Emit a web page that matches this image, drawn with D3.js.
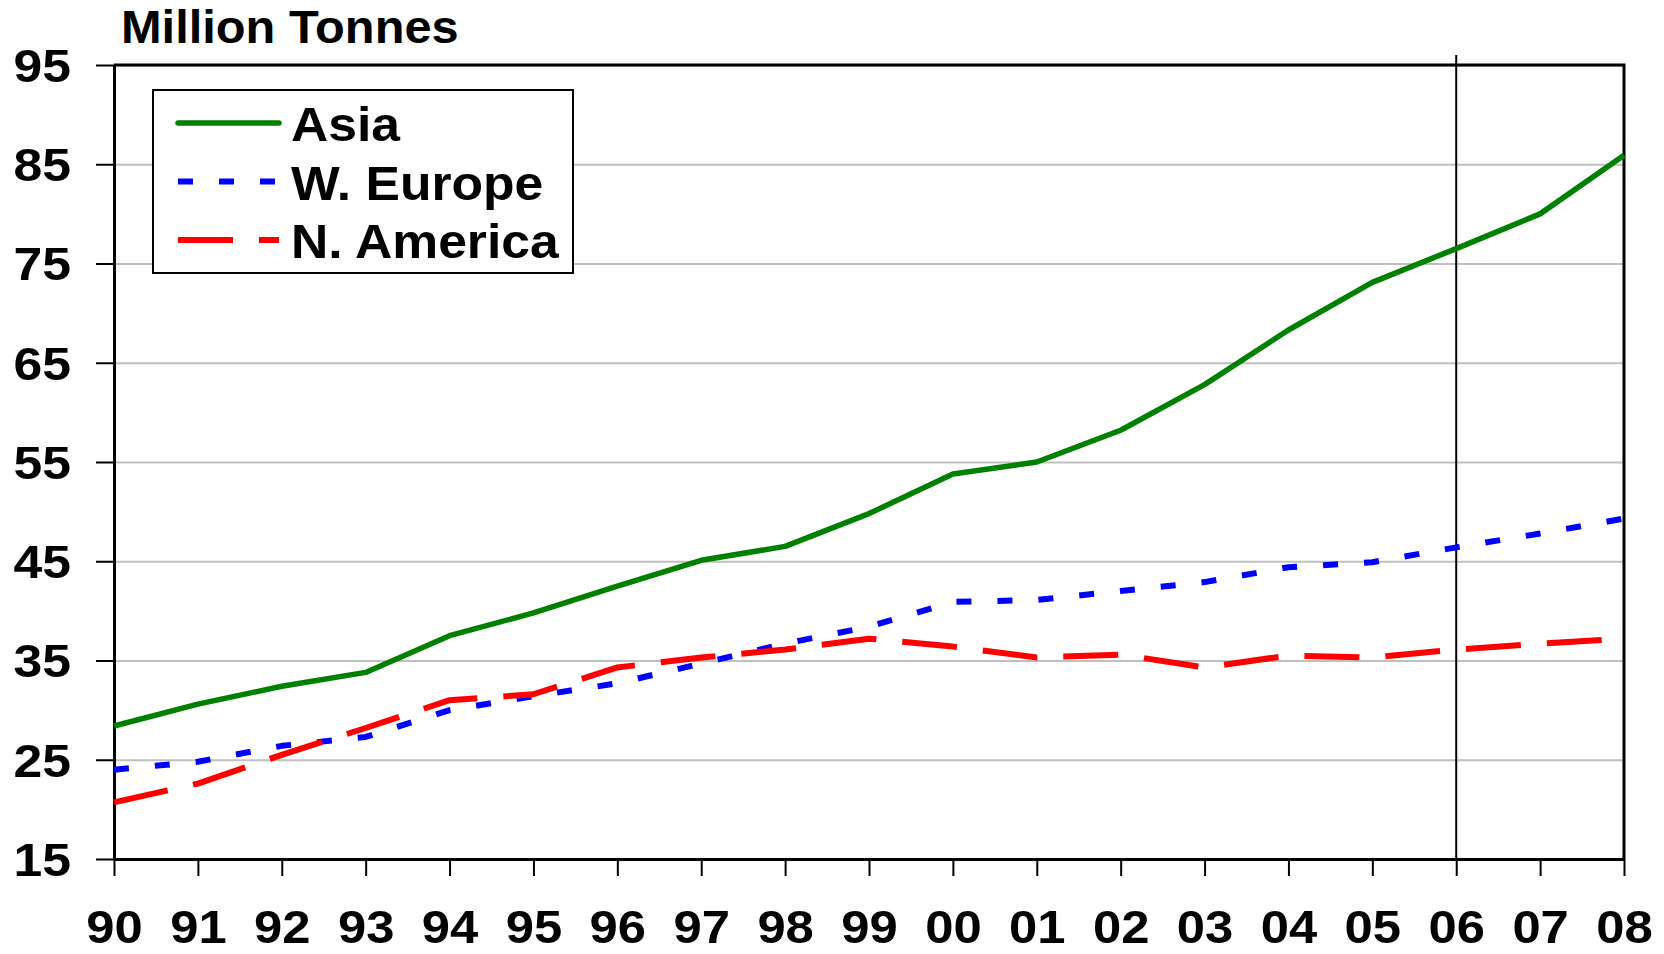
<!DOCTYPE html>
<html>
<head>
<meta charset="utf-8">
<script src="https://cdn.jsdelivr.net/npm/d3@7"></script>
<style>
  body { margin: 0; background: #fff; }
  text { font-family: "Liberation Sans", Arial, sans-serif; font-weight: bold; fill: #000; }
</style>
</head>
<body>
<div id="chart"></div>
<script>
// years on the x axis
const years = ["90","91","92","93","94","95","96","97","98","99","00","01","02","03","04","05","06","07","08"];
// million tonnes
const asia     = [28.4, 30.6, 32.4, 33.8, 37.5, 39.8, 42.5, 45.1, 46.5, 49.8, 53.8, 55.0, 58.2, 62.8, 68.3, 73.1, 76.5, 80.0, 85.9];
const wEurope  = [24.0, 24.8, 26.4, 27.3, 30.0, 31.4, 32.7, 34.7, 36.7, 38.4, 40.9, 41.1, 42.0, 42.9, 44.4, 44.9, 46.4, 47.8, 49.3];
const nAmerica = [20.7, 22.6, 25.5, 28.2, 31.0, 31.6, 34.3, 35.3, 36.1, 37.2, 36.4, 35.3, 35.6, 34.3, 35.5, 35.3, 36.1, 36.7, 37.2];
const yTicks = [15, 25, 35, 45, 55, 65, 75, 85, 95];
const markerYear = "06";

const series = [
  {name: "Asia", values: asia, color: "#008000", dash: null, width: 5.5},
  {name: "W. Europe", values: wEurope, color: "#0000ff", dash: "15,26", width: 6},
  {name: "N. America", values: nAmerica, color: "#ff0000", dash: "55,26", width: 6}
];

const W = 1664, H = 954;
const margin = {top: 65, right: 40, bottom: 95, left: 114};
const width = W - margin.left - margin.right;
const height = H - margin.top - margin.bottom;

// the original font is a little wider than Liberation Sans
function stretch(sel, k) {
  sel.each(function() {
    const len = this.getComputedTextLength();
    d3.select(this)
      .attr("textLength", len * k)
      .attr("lengthAdjust", "spacingAndGlyphs");
  });
}

const svg = d3.select("#chart").append("svg")
  .attr("width", W)
  .attr("height", H);

const chart = svg.append("g")
  .attr("transform", `translate(${margin.left},${margin.top})`);

const x = d3.scalePoint().domain(years).range([0, width]);
const y = d3.scaleLinear().domain([15, 95]).range([height, 0]);

// horizontal grid lines
chart.append("g")
  .call(d3.axisLeft(y).tickValues(yTicks).tickSize(-width).tickFormat(""))
  .call(g => g.select(".domain").remove())
  .call(g => g.selectAll(".tick line").attr("stroke", "#c0c0c0").attr("stroke-width", 2));

// top and right frame
chart.append("path")
  .attr("d", `M0,0H${width}V${height}`)
  .attr("fill", "none")
  .attr("stroke", "#000")
  .attr("stroke-width", 3);

// y axis
chart.append("g")
  .call(d3.axisLeft(y).tickValues(yTicks).tickSize(18).tickSizeOuter(0).tickPadding(25))
  .call(g => g.select(".domain").attr("stroke-width", 3))
  .call(g => g.selectAll(".tick line").attr("stroke-width", 2))
  .call(g => g.selectAll("text").attr("font-size", 47).attr("dy", "0.35em").call(stretch, 1.1));

// x axis
chart.append("g")
  .attr("transform", `translate(0,${height})`)
  .call(d3.axisBottom(x).tickSize(17).tickSizeOuter(0).tickPadding(34))
  .call(g => g.select(".domain").attr("stroke-width", 3))
  .call(g => g.selectAll(".tick line").attr("stroke-width", 2))
  .call(g => g.selectAll("text").attr("font-size", 47).call(stretch, 1.08));

// vertical marker line
chart.append("line")
  .attr("x1", x(markerYear)).attr("x2", x(markerYear))
  .attr("y1", -10).attr("y2", height)
  .attr("stroke", "#000")
  .attr("stroke-width", 2);

// series lines
const line = d3.line()
  .x((d, i) => x(years[i]))
  .y(d => y(d));

chart.selectAll(".series")
  .data(series)
  .join("path")
  .attr("class", "series")
  .attr("d", d => line(d.values))
  .attr("fill", "none")
  .attr("stroke", d => d.color)
  .attr("stroke-width", d => d.width)
  .attr("stroke-dasharray", d => d.dash)
  .attr("stroke-linejoin", "round");

// title
svg.append("text")
  .attr("x", 121)
  .attr("y", 43)
  .attr("font-size", 46)
  .text("Million Tonnes")
  .call(stretch, 1.06);

// legend
const legend = svg.append("g").attr("transform", "translate(153,90)");
legend.append("rect")
  .attr("width", 420).attr("height", 183)
  .attr("fill", "#fff")
  .attr("stroke", "#000")
  .attr("stroke-width", 2);

const rows = legend.selectAll(".row")
  .data(series)
  .join("g")
  .attr("transform", (d, i) => `translate(0,${33 + i * 58.5})`);

rows.append("line")
  .attr("x1", 25).attr("x2", 126)
  .attr("stroke", d => d.color)
  .attr("stroke-width", d => d.width)
  .attr("stroke-dasharray", d => d.dash)
  .attr("stroke-linecap", d => d.dash ? "butt" : "round");

rows.append("text")
  .attr("x", 138)
  .attr("y", 18)
  .attr("font-size", 48)
  .text(d => d.name)
  .call(stretch, 1.075);
</script>
</body>
</html>
